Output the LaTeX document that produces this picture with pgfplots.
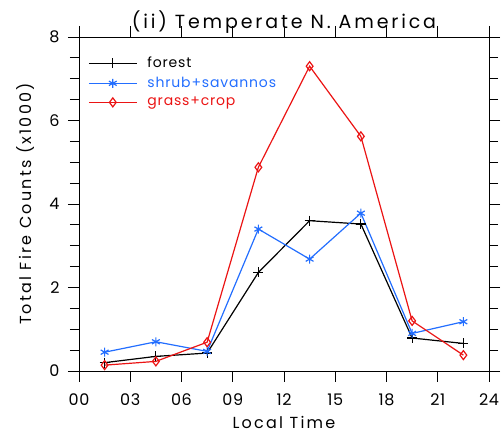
\documentclass[border=0pt]{standalone}
\usepackage{fontspec}
\setmainfont{Poppins}
\usepackage{pgfplots}
\pgfplotsset{compat=1.18}
\definecolor{fblack}{RGB}{0,0,0}
\definecolor{sblue}{RGB}{35,110,255}
\definecolor{gred}{RGB}{235,20,20}

\begin{document}
\begin{tikzpicture}
\begin{axis}[name=ax,
  scale only axis,width=410pt,height=334pt,
  xmin=0,xmax=24,ymin=0,ymax=8,
  xtick={0,3,...,24},
  xticklabels={00,03,06,09,12,15,18,21,24},
  ytick={0,2,4,6,8},
  minor y tick num=3,
  tick align=outside,
  major tick length=11pt,minor tick length=9pt,
  every tick/.style={black,line width=0.8pt},
  axis line style={line width=0.9pt},
  /pgf/number format/assume math mode=true,
  tick label style={font=\fontsize{16}{19}\selectfont\addfontfeatures{LetterSpace=4}},
  xticklabel style={yshift=-8pt},
  yticklabel style={xshift=-5pt},
  xlabel={Local Time},
  ylabel={Total Fire Counts (x1000)},
  label style={font=\fontsize{16}{19}\selectfont\addfontfeatures{LetterSpace=14}},
  xlabel style={yshift=-4pt},
  ylabel style={yshift=8pt},
  title={(ii) Temperate N. America},
  title style={font=\fontsize{19}{22}\selectfont\addfontfeatures{LetterSpace=15},yshift=-6pt},
  legend style={draw=none,fill=none,at={(0,1)},anchor=north west,xshift=6pt,yshift=-16pt,
    font=\fontsize{14}{17}\selectfont\addfontfeatures{LetterSpace=6},row sep=4pt,
    /tikz/every odd column/.append style={column sep=8pt}},
  legend cell align=left,
  legend image code/.code={\draw[mark repeat=2,mark phase=2] plot coordinates {(0pt,0pt)(24pt,0pt)(48pt,0pt)};},
]
\addplot[fblack,line width=1.2pt,mark=+,mark size=5pt] coordinates {
(1.5,0.20)(4.5,0.35)(7.5,0.43)(10.5,2.36)(13.5,3.60)(16.5,3.52)(19.5,0.79)(22.5,0.66)};
\addlegendentry{\textcolor{fblack}{forest}}
\addplot[sblue,line width=1.2pt,mark=asterisk,mark size=4.5pt] coordinates {
(1.5,0.45)(4.5,0.70)(7.5,0.47)(10.5,3.40)(13.5,2.68)(16.5,3.78)(19.5,0.90)(22.5,1.18)};
\addlegendentry{\textcolor{sblue}{shrub+savannos}}
\addplot[gred,line width=1.2pt,mark=diamond,mark size=4.5pt] coordinates {
(1.5,0.14)(4.5,0.23)(7.5,0.69)(10.5,4.88)(13.5,7.30)(16.5,5.62)(19.5,1.20)(22.5,0.38)};
\addlegendentry{\textcolor{gred}{grass+crop}}
\end{axis}
\path ([shift={(-79pt,-62pt)}]ax.south west) rectangle ([shift={(14pt,37pt)}]ax.north east);
\end{tikzpicture}
\end{document}
